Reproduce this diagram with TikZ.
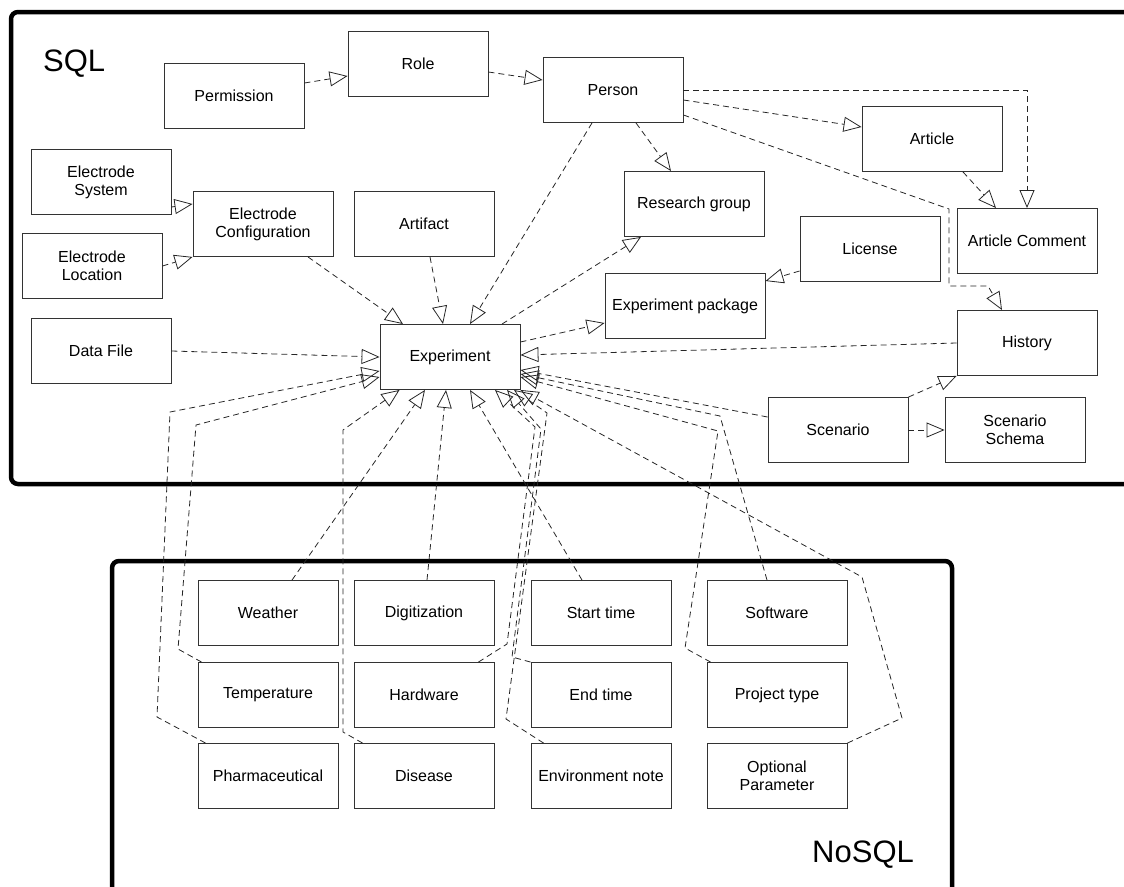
\documentclass[tikz,border=0pt]{standalone}
\usepackage{fontspec}
\setmainfont{Liberation Sans}
\usetikzlibrary{arrows.meta}

\begin{document}
\begin{tikzpicture}[x=1pt, y=-1pt,
    entity/.style={draw=black!80, line width=0.9pt, minimum width=140pt, minimum height=65pt, inner sep=2pt, align=center, font=\fontsize{16}{18}\selectfont},
    uses/.style={draw=black!85, line width=0.8pt, dash pattern=on 6pt off 4pt, -{Triangle[open, length=18pt, width=15pt]}},
    region/.style={line width=4.5pt, rounded corners=7pt},
    regionlabel/.style={anchor=base west, inner sep=0pt, font=\fontsize{31}{31}\selectfont}]
  \useasboundingbox (0,0) rectangle (1124,886);
  \clip (0,0) rectangle (1124,886);
  \draw[region] (11,12) rectangle (1150,484);
  \draw[region] (112,561) rectangle (952,930);
  \node[regionlabel] (sqllabel) at (43,71) {SQL};
  \node[regionlabel] (nosqllabel) at (812,862) {NoSQL};

  \node[entity] (permission) at (234,96) {Permission};
  \node[entity] (role) at (418,64) {Role};
  \node[entity] (person) at (613,90) {Person};
  \node[entity] (article) at (932,139) {Article};
  \node[entity] (comment) at (1027,241) {Article Comment};
  \node[entity] (group) at (694,204) {Research group};
  \node[entity] (license) at (870,249) {License};
  \node[entity, minimum width=160pt] (package) at (685,306) {Experiment package};
  \node[entity] (history) at (1027,343) {History};
  \node[entity] (scenario) at (838,430) {Scenario};
  \node[entity] (schema) at (1015,430) {Scenario\\Schema};
  \node[entity] (esystem) at (101,182) {Electrode\\System};
  \node[entity] (econfig) at (263,224) {Electrode\\Configuration};
  \node[entity] (elocation) at (92,266) {Electrode\\Location};
  \node[entity] (artifact) at (424,224) {Artifact};
  \node[entity] (datafile) at (101,351) {Data File};
  \node[entity] (experiment) at (450,357) {Experiment};

  \node[entity] (weather) at (268,613) {Weather};
  \node[entity] (temperature) at (268,695) {Temperature};
  \node[entity] (pharma) at (268,776) {Pharmaceutical};
  \node[entity] (digitization) at (424,613) {Digitization};
  \node[entity] (hardware) at (424,695) {Hardware};
  \node[entity] (disease) at (424,776) {Disease};
  \node[entity] (starttime) at (601,613) {Start time};
  \node[entity] (endtime) at (601,695) {End time};
  \node[entity] (envnote) at (601,776) {Environment note};
  \node[entity] (software) at (777,613) {Software};
  \node[entity] (projtype) at (777,695) {Project type};
  \node[entity] (optparam) at (777,776) {Optional\\Parameter};

  \draw[uses] ([yshift=13pt]permission.east) -- ([yshift=-12pt]role.west);
  \draw[uses] ([yshift=-8pt]role.east) -- ([yshift=10pt]person.west);
  \draw[uses] ([yshift=-10pt]person.east) -- ([yshift=12pt]article.west);
  \draw[uses] (person.east) -| (comment.north);
  \draw[uses] ([yshift=-25pt]person.east) -- (949,209) -- (949,286) -- (988,286) -- ([xshift=-25pt]history.north);
  \draw[uses] ([xshift=23pt]person.south) -- ([xshift=-23pt]group.north);
  \draw[uses] ([xshift=31pt]article.south) -- ([xshift=-31pt]comment.north);
  \draw[uses] ([yshift=-22pt]license.west) -- ([yshift=25pt]package.east);
  \draw[uses] ([xshift=-21pt]person.south) -- ([xshift=20pt]experiment.north);
  \draw[uses] ([xshift=45pt]econfig.south) -- ([xshift=-47pt]experiment.north);
  \draw[uses] ([xshift=6pt]artifact.south) -- ([xshift=-7pt]experiment.north);
  \draw[uses] ([xshift=52pt]experiment.north) -- ([xshift=-53pt]group.south);
  \draw[uses] ([yshift=15pt]experiment.east) -- ([yshift=-17pt]package.west);
  \draw[uses] (history.west) -- ([yshift=2pt]experiment.east);
  \draw[uses] (datafile.east) -- (experiment.west);
  \draw[uses] ([yshift=13pt]scenario.west) -- ([yshift=-13pt]experiment.east);
  \draw[uses] (scenario.north east) -- (history.south west);
  \draw[uses] (scenario.east) -- (schema.west);
  \draw[uses] ([yshift=-25pt]esystem.east) -- ([yshift=20pt]econfig.west);
  \draw[uses] (elocation.east) -- (econfig.south west);

  \draw[uses] ([xshift=8pt]pharma.north west) -- (157,717) -- (170,412) -- ([yshift=-14pt]experiment.west);
  \draw[uses] ([xshift=4pt]temperature.north west) -- (178,649) -- (196,425) -- ([yshift=-20pt]experiment.west);
  \draw[uses] ([xshift=24pt]weather.north) -- ([xshift=-25pt]experiment.south);
  \draw[uses] ([xshift=9pt]disease.north west) -- (343,732) -- (343,430) -- ([xshift=20pt]experiment.south west);
  \draw[uses] ([xshift=3pt]digitization.north) -- ([xshift=-4pt]experiment.south);
  \draw[uses] ([xshift=-19pt]starttime.north) -- ([xshift=20pt]experiment.south);
  \draw[uses] ([xshift=-16pt]hardware.north east) -- (507,644) -- (535,427) -- ([xshift=45pt]experiment.south);
  \draw[uses] (endtime.north west) -- (512,657) -- (541,429) -- ([xshift=57pt]experiment.south);
  \draw[uses] ([xshift=13pt]envnote.north west) -- (506,719) -- (547,413) -- ([xshift=64pt]experiment.south);
  \draw[uses] ([xshift=-10pt]software.north) -- (720,416) -- ([yshift=-17pt]experiment.east);
  \draw[uses] ([xshift=4pt]projtype.north west) -- (685,648) -- (718,431) -- ([yshift=-20pt]experiment.east);
  \draw[uses] (optparam.north east) -- (902,718) -- (862,577) -- (experiment.south east);
\end{tikzpicture}
\end{document}
